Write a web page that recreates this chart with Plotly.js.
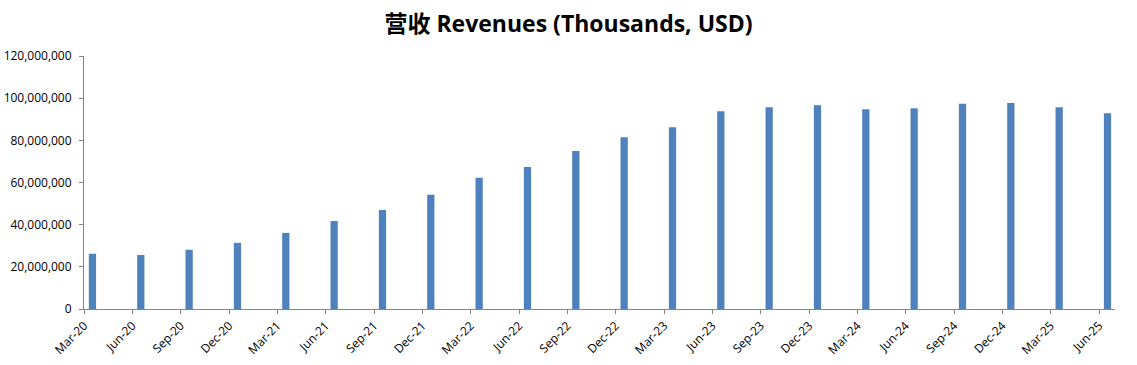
<!DOCTYPE html>
<html>
<head>
<meta charset="utf-8">
<script src="https://cdn.plot.ly/plotly-3.0.1.min.js"></script>
<style>html,body{margin:0;padding:0;background:#fff;}#chart{width:1137px;height:365px;}</style>
</head>
<body>
<div id="chart"></div>
<script>
const quarters = ["Mar-20","Jun-20","Sep-20","Dec-20","Mar-21","Jun-21","Sep-21","Dec-21","Mar-22","Jun-22","Sep-22","Dec-22","Mar-23","Jun-23","Sep-23","Dec-23","Mar-24","Jun-24","Sep-24","Dec-24","Mar-25","Jun-25"];
const revenues = [26200000,25600000,28100000,31400000,36100000,41700000,46900000,54200000,62200000,67400000,74900000,81500000,86200000,93800000,95700000,96600000,94800000,95200000,97300000,97700000,95700000,92900000];
const yTicks = [0,20000000,40000000,60000000,80000000,100000000,120000000];
const yTickText = ["0","20,000,000","40,000,000","60,000,000","80,000,000","100,000,000","120,000,000"];

const axisFont = {family: "Open Sans, Liberation Sans, sans-serif", size: 12, color: "#000"};
Plotly.newPlot("chart", [{
  type: "bar",
  x: quarters,
  y: revenues,
  offset: 0.1,
  width: 0.15,
  marker: {color: "#4F81BD"},
  hoverinfo: "x+y"
}], {
  width: 1137, height: 365,
  margin: {l: 84, r: 22, t: 56, b: 56},
  paper_bgcolor: "#fff", plot_bgcolor: "#fff",
  showlegend: false,
  title: {text: "<b>营收 Revenues (Thousands, USD)</b>", x: 0.5, xanchor: "center", y: 0.935, yanchor: "middle",
          font: {family: "Open Sans, Noto Sans CJK SC, sans-serif", size: 23, color: "#000"}},
  xaxis: {
    type: "category", range: [0, 21.33], autorange: false,
    showline: true, linecolor: "#868686", linewidth: 1,
    ticks: "outside", ticklen: 4, tickcolor: "#868686",
    tickangle: -45, tickfont: axisFont, showgrid: false, zeroline: false
  },
  yaxis: {
    range: [0, 120000000], autorange: false,
    tickvals: yTicks, ticktext: yTickText,
    showline: true, linecolor: "#868686", linewidth: 1,
    ticks: "outside", ticklen: 4, tickcolor: "#868686",
    ticklabelstandoff: 5,
    tickfont: axisFont, showgrid: false, zeroline: false
  }
}, {displayModeBar: false, staticPlot: true});
</script>
</body>
</html>
